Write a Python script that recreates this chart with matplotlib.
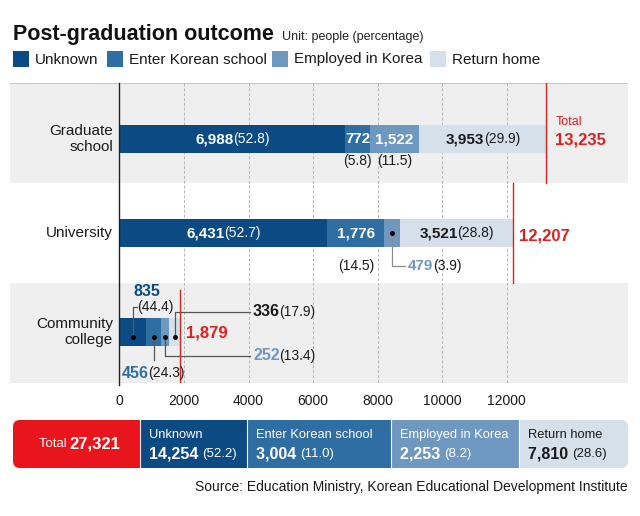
import matplotlib
matplotlib.use("Agg")
import matplotlib.pyplot as plt
from matplotlib.patches import Rectangle, FancyBboxPatch
from matplotlib.transforms import offset_copy

plt.rcParams['font.family'] = ['Liberation Sans', 'DejaVu Sans']

# ---------------- data ----------------
categories = ["Graduate\nschool", "University", "Community\ncollege"]
series_names = ["Unknown", "Enter Korean school", "Employed in Korea", "Return home"]
unknown = [6988, 6431, 835]
enter_school = [772, 1776, 456]
employed = [1522, 479, 252]
return_home = [3953, 3521, 336]
pct_unknown = [52.8, 52.7, 44.4]
pct_enter = [5.8, 14.5, 24.3]
pct_employed = [11.5, 3.9, 13.4]
pct_return = [29.9, 28.8, 17.9]
totals = [13235, 12207, 1879]
overall_total = 27321
overall_values = [14254, 3004, 2253, 7810]
overall_pct = [52.2, 11.0, 8.2, 28.6]
xticks = [0, 2000, 4000, 6000, 8000, 10000, 12000]

# ---------------- style ----------------
C_UNK = '#0c4a83'
C_ENT = '#2f6ea2'
C_EMP = '#6f98c1'
C_RET = '#d5e0ea'
C_RED = '#e0201e'
C_BAND = '#efefef'
C_DARK = '#1a1a1a'
series_colors = [C_UNK, C_ENT, C_EMP, C_RET]

W, H = 640, 516
fig = plt.figure(figsize=(6.4, 5.16), dpi=100)
renderer = fig.canvas.get_renderer()

# overlay axes in pixel coordinates
ov = fig.add_axes([0, 0, 1, 1])
ov.set_xlim(0, W)
ov.set_ylim(H, 0)
ov.axis('off')
ov.patch.set_visible(False)

# main axes: pixels x 10..628, y 83..383
AX_L, AX_R, AX_T, AX_B = 10, 628, 83, 383
X0PIX = 119.5
PX_PER_UNIT = 32.25 / 1000.0
ax = fig.add_axes([AX_L / W, 1 - AX_B / H, (AX_R - AX_L) / W, (AX_B - AX_T) / H])
ax.set_xlim((AX_L - X0PIX) / PX_PER_UNIT, (AX_R - X0PIX) / PX_PER_UNIT)
ax.set_ylim(3, 0)
ax.patch.set_visible(False)
for s in ax.spines.values():
    s.set_visible(False)


def rich(axis, x, y, parts, ha='center', va='center', transform=None, zorder=6, gap=-0.5):
    transform = transform if transform is not None else axis.transData
    texts, widths = [], []
    for s, kw in parts:
        t = axis.text(x, y, s, ha='left', va=va, transform=transform, zorder=zorder, **kw)
        texts.append(t)
        widths.append(t.get_window_extent(renderer).width + gap)
    total = sum(widths)
    off = {'center': -total / 2, 'left': 0, 'right': -total}[ha]
    for t, w in zip(texts, widths):
        t.set_transform(offset_copy(transform, fig=fig, x=off, y=0, units='dots'))
        off += w


def dx(px):
    return px / PX_PER_UNIT


# bands
ax.axhspan(0, 1, color=C_BAND, zorder=0, lw=0)
ax.axhspan(2, 3, color=C_BAND, zorder=0, lw=0)
ax.axhline(0, color='#c8c8c8', lw=0.8, zorder=1)
ax.axhline(3, color='#c8c8c8', lw=0.8, zorder=1)
for xv in xticks[1:]:
    ax.plot([xv, xv], [0, 3], color='#b5b5b5', lw=0.7, ls=(0, (3, 2)), zorder=1)
ax.plot([0, 0], [0, 3.02], color='#222222', lw=1.0, zorder=5, clip_on=False)

# ticks
ax.set_xticks(xticks)
ax.set_xticklabels([str(v) for v in xticks], fontsize=10, color=C_DARK)
ax.tick_params(axis='x', length=0, pad=8)
ax.set_yticks([])

centers = [0.56, 1.5, 2.49]
bar_h = 0.28
series = [unknown, enter_school, employed, return_home]
for i, c in enumerate(centers):
    left = 0
    for vals, col in zip(series, series_colors):
        ax.barh(c, vals[i], left=left, height=bar_h, color=col, zorder=3, lw=0)
        left += vals[i]

# category labels
for name, c in zip(categories, centers):
    ax.text(dx(113 - X0PIX), c, name, ha='right', va='center', fontsize=11,
            color=C_DARK, linespacing=1.2, zorder=6)

BOLD = dict(fontsize=11, fontweight='bold')
PCT = dict(fontsize=10)

# --- Graduate school labels ---
i = 0
c = centers[i]
rich(ax, unknown[i] / 2, c, [(f"{unknown[i]:,}", dict(BOLD, color='white')),
                             (f"({pct_unknown[i]})", dict(PCT, color='white'))])
x_ent = unknown[i] + enter_school[i] / 2
rich(ax, x_ent, c, [(f"{enter_school[i]:,}", dict(BOLD, color='white'))])
rich(ax, x_ent, c + 0.22, [(f"({pct_enter[i]})", dict(PCT, color=C_DARK))])
x_emp = unknown[i] + enter_school[i] + employed[i] / 2
rich(ax, x_emp, c, [(f"{employed[i]:,}", dict(BOLD, color='white'))])
rich(ax, x_emp, c + 0.22, [(f"({pct_employed[i]})", dict(PCT, color=C_DARK))])
x_ret = unknown[i] + enter_school[i] + employed[i] + return_home[i] / 2
rich(ax, x_ret, c, [(f"{return_home[i]:,}", dict(BOLD, color=C_DARK)),
                    (f"({pct_return[i]})", dict(PCT, color=C_DARK))])
ax.plot([totals[i], totals[i]], [0, 1], color=C_RED, lw=1.0, zorder=5)
ax.text(totals[i] + dx(9), c - 0.17, "Total", ha='left', va='center', fontsize=9, color=C_RED)
ax.text(totals[i] + dx(9), c + 0.01, f"{totals[i]:,}", ha='left', va='center',
        fontsize=12, fontweight='bold', color=C_RED)

# --- University labels ---
i = 1
c = centers[i]
rich(ax, unknown[i] / 2, c, [(f"{unknown[i]:,}", dict(BOLD, color='white')),
                             (f"({pct_unknown[i]})", dict(PCT, color='white'))])
x_ent = unknown[i] + enter_school[i] / 2
rich(ax, x_ent, c, [(f"{enter_school[i]:,}", dict(BOLD, color='white'))])
rich(ax, x_ent, c + 0.33, [(f"({pct_enter[i]})", dict(PCT, color=C_DARK))])
x_emp = unknown[i] + enter_school[i] + employed[i] / 2
ax.plot([x_emp], [c], 'o', color='black', ms=2.5, zorder=6)
ax.plot([x_emp, x_emp, x_emp + dx(13)], [c, c + 0.33, c + 0.33], color='#8a8a8a', lw=0.9, zorder=5)
rich(ax, x_emp + dx(16), c + 0.33, [(f"{employed[i]:,}", dict(BOLD, color=C_EMP)),
                                     (f"({pct_employed[i]})", dict(PCT, color=C_DARK))], ha='left')
x_ret = unknown[i] + enter_school[i] + employed[i] + return_home[i] / 2
rich(ax, x_ret, c, [(f"{return_home[i]:,}", dict(BOLD, color=C_DARK)),
                    (f"({pct_return[i]})", dict(PCT, color=C_DARK))])
ax.plot([totals[i], totals[i]], [1, 2], color=C_RED, lw=1.0, zorder=5)
ax.text(totals[i] + dx(6), c + 0.03, f"{totals[i]:,}", ha='left', va='center',
        fontsize=12, fontweight='bold', color=C_RED)

# --- Community college labels ---
i = 2
c = centers[i]
lc = '#555555'
x_unk = unknown[i] / 2
x_ent = unknown[i] + enter_school[i] / 2
x_emp = unknown[i] + enter_school[i] + employed[i] / 2
x_ret = unknown[i] + enter_school[i] + employed[i] + return_home[i] / 2
for xv in [x_unk, x_ent, x_emp, x_ret]:
    ax.plot([xv], [c + 0.05], 'o', color='black', ms=2.5, zorder=6)
cy = c + 0.05
# 835
ax.plot([x_unk, x_unk, x_unk + dx(4)], [cy, cy - 0.30, cy - 0.30], color=lc, lw=0.9, zorder=5)
rich(ax, x_unk + dx(4), cy - 0.30, [(f"({pct_unknown[i]})", dict(PCT, color=C_DARK))], ha='left')
rich(ax, x_unk + dx(14), cy - 0.45, [(f"{unknown[i]:,}", dict(BOLD, fontsize=11.5, color=C_UNK))])
# 456
ax.plot([x_ent, x_ent], [cy, cy + 0.23], color=lc, lw=0.9, zorder=5)
rich(ax, x_ent - dx(1), cy + 0.36, [(f"{enter_school[i]:,}", dict(BOLD, fontsize=11.5, color=C_ENT)),
                                     (f"({pct_enter[i]})", dict(PCT, color=C_DARK))])
# 252
ax.plot([x_emp, x_emp, dx(250 - X0PIX)], [cy, cy + 0.19, cy + 0.19], color=lc, lw=0.9, zorder=5)
rich(ax, dx(253 - X0PIX), cy + 0.19, [(f"{employed[i]:,}", dict(BOLD, fontsize=11.5, color=C_EMP)),
                                       (f"({pct_employed[i]})", dict(PCT, color=C_DARK))], ha='left')
# 336
ax.plot([x_ret, x_ret, dx(250 - X0PIX)], [cy, cy - 0.25, cy - 0.25], color=lc, lw=0.9, zorder=5)
rich(ax, dx(253 - X0PIX), cy - 0.25, [(f"{return_home[i]:,}", dict(BOLD, fontsize=11.5, color=C_DARK)),
                                       (f"({pct_return[i]})", dict(PCT, color=C_DARK))], ha='left')
ax.plot([totals[i], totals[i]], [2.07, 3], color=C_RED, lw=1.0, zorder=5)
ax.text(totals[i] + dx(6), c + 0.01, f"{totals[i]:,}", ha='left', va='center',
        fontsize=12, fontweight='bold', color=C_RED)

# ---------------- title & legend ----------------
ov.text(13, 40, "Post-graduation outcome", ha='left', va='baseline', fontsize=15.5,
        fontweight='bold', color='#111111')
ov.text(282, 40, "Unit: people (percentage)", ha='left', va='baseline', fontsize=9, color='#222222')
leg_x = [13, 107, 272, 430]
for name, col, lx in zip(series_names, series_colors, leg_x):
    ov.add_patch(Rectangle((lx, 51), 16, 16, color=col, lw=0))
    ov.text(lx + 22, 59.5, name, ha='left', va='center', fontsize=11, color=C_DARK)

# ---------------- summary bar ----------------
sy, sh = 420, 48
bounds = [13, 140, 247, 391, 519, 628]
ov.add_patch(FancyBboxPatch((bounds[0], sy), bounds[-1] - bounds[0], sh,
                            boxstyle="round,pad=0,rounding_size=7", fc=C_RET, ec='none'))
ov.add_patch(FancyBboxPatch((bounds[0], sy), 190, sh,
                            boxstyle="round,pad=0,rounding_size=7", fc='#e8161c', ec='none'))
for k, col in enumerate([C_UNK, C_ENT, C_EMP]):
    ov.add_patch(Rectangle((bounds[k + 1], sy), bounds[k + 2] - bounds[k + 1], sh, fc=col, ec='none'))
for b in bounds[1:-1]:
    ov.plot([b, b], [sy, sy + sh], color='white', lw=0.8)

rich(ov, (bounds[0] + bounds[1]) / 2 + 3, 444,
     [("Total ", dict(fontsize=9.5, color='white')),
      (f"{overall_total:,}", dict(fontsize=12, fontweight='bold', color='white'))])
for k, name in enumerate(series_names):
    col = C_DARK if k == 3 else 'white'
    x = bounds[k + 1] + 9
    ov.text(x, 435, name, ha='left', va='center', fontsize=9.3, color=col)
    rich(ov, x, 454, [(f"{overall_values[k]:,} ", dict(fontsize=11.5, fontweight='bold', color=col)),
                      (f"({overall_pct[k]})", dict(fontsize=9.5, color=col))], ha='left')

ov.text(628, 487, "Source: Education Ministry, Korean Educational Development Institute",
        ha='right', va='center', fontsize=10, color=C_DARK)

fig.savefig("out.png", dpi=100)
